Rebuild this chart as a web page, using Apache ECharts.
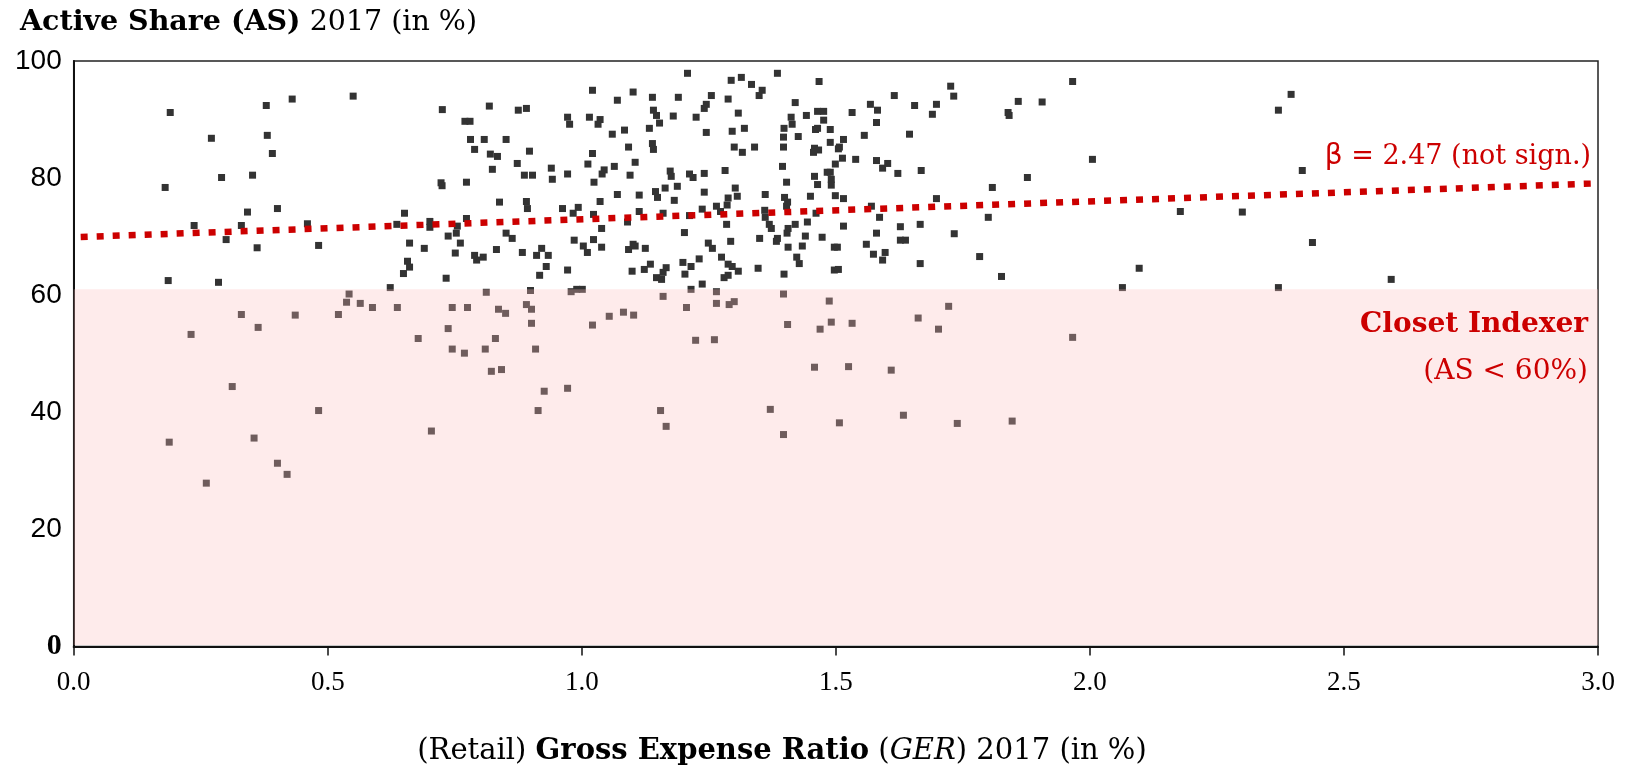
<!DOCTYPE html>
<html>
<head>
<meta charset="utf-8">
<script src="https://cdn.jsdelivr.net/npm/echarts@6/dist/echarts.min.js"></script>
<style>html,body{margin:0;padding:0;background:#fff;}#c{width:1626px;height:774px;}</style>
</head>
<body>
<div id="c"></div>
<script>
// ---- data ----
var gerValues = [
0.190,0.379,0.430,0.550,0.271,0.381,0.391,0.291,0.352,0.180,0.342,0.401,0.651,0.237,0.330,0.460,0.636,0.701,0.701,0.300,0.361,0.482,0.661,0.690,0.657,0.661,0.649,0.186,0.285,0.623,
0.542,0.537,0.564,0.588,0.637,0.745,0.330,0.436,0.521,0.363,0.737,0.231,0.678,0.745,0.312,0.482,0.704,0.188,0.355,0.401,0.420,0.261,
0.7255,0.818,0.875,0.891,0.770,0.780,0.781,0.808,0.851,0.789,0.820,0.834,0.824,0.897,0.873,0.723,0.725,0.773,0.887,0.903,0.940,0.942,0.972,0.838,0.891,0.893,0.962,0.993,0.983,0.773,0.755,0.753,0.737,0.761,0.751,0.733,0.789,0.793,0.806,0.832,0.851,0.863,0.883,0.911,0.921,0.934,0.930,0.917,0.972,0.985,1.003,1.011,1.023,1.039,1.039,1.023,1.036,1.024,1.012,1.021,1.040,1.044,1.064,1.070,1.095,1.105,1.113,1.113,1.092,1.060,1.084,0.972,0.976,1.015,1.036,1.032,1.021,1.070,1.101,1.139,1.141,1.147,1.153,1.133,1.139,1.141,1.190,1.208,1.180,1.225,1.241,1.245,1.255,1.245,1.288,1.294,1.314,1.334,1.355,1.349,1.385,1.420,1.308,1.296,1.320,1.412,1.414,1.398,1.397,1.426,1.397,1.300,1.316,1.340,1.395,1.403,1.282,1.241,1.212,1.219,1.174,1.176,1.164,1.188,1.145,1.149,1.182,1.241,1.302,1.306,1.288,1.286,1.361,1.399,1.405,1.403,1.265,1.237,1.273,1.160,1.212,1.360,1.361,1.369,1.373,1.420,1.406,1.404,1.285,1.090,1.202,1.293,1.249,1.257,1.350,1.385,1.383,1.406,1.423,1.428,1.092,1.101,1.105,1.125,1.135,1.123,1.099,1.166,1.160,1.147,1.157,1.199,1.215,1.203,1.231,1.275,1.288,1.296,1.308,1.280,1.288,1.347,1.398,1.237,1.215,
0.812,0.899,0.979,0.990,1.001,0.775,0.836,0.850,0.891,0.901,0.901,0.830,0.810,0.769,0.909,0.822,0.842,0.926,0.972,0.914,1.021,1.054,1.082,1.102,1.160,1.206,1.265,1.265,1.290,1.300,1.397,1.405,1.224,1.261,1.155,1.166,1.371,1.397,
1.467,1.442,1.464,1.476,1.476,1.460,1.464,1.489,1.489,1.458,1.456,1.466,1.505,1.507,1.515,1.532,1.568,1.582,1.580,1.556,1.615,1.655,1.690,1.698,1.726,1.732,1.645,1.499,1.513,1.539,1.580,1.592,1.602,1.622,1.668,1.458,1.483,1.489,1.491,1.491,1.464,1.450,1.499,1.515,1.461,1.570,1.586,1.698,1.444,1.515,1.627,1.666,1.440,1.473,1.580,1.627,1.637,1.733,1.434,1.497,1.503,1.560,1.574,1.597,1.592,1.666,1.783,1.800,1.808,1.877,1.839,1.841,1.859,1.906,1.966,2.005,1.826,2.097,2.064,1.497,1.505,
1.487,1.491,1.469,1.532,1.662,1.722,1.702,1.966,1.458,1.525,1.609,1.633,1.507,1.739,1.847,
2.396,2.371,2.418,2.178,2.300,2.438,2.371,2.593
];
var asValues = [
91.2,92.4,93.5,94.0,86.8,87.3,84.2,80.1,80.5,78.4,74.2,74.8,74.0,71.9,71.9,72.2,72.1,72.6,71.6,69.5,68.1,68.5,68.9,68.0,65.8,64.8,63.7,62.5,62.2,61.3,
60.2,58.8,58.6,57.9,57.9,57.9,56.7,56.6,56.7,54.5,54.3,53.3,52.6,50.8,44.4,40.3,36.8,34.9,35.6,31.3,29.4,27.9,
91.7,92.3,91.6,91.9,89.7,89.7,86.6,86.6,86.6,84.9,84.1,83.7,81.5,84.6,82.5,79.2,78.7,79.3,80.5,80.5,81.7,79.8,80.7,75.9,76.0,74.8,74.8,75.0,74.0,73.1,71.8,70.6,70.1,68.9,67.2,62.9,66.8,66.0,66.5,67.8,70.6,69.7,67.3,66.8,68.0,66.8,64.9,63.4,64.3,69.4,68.4,67.3,69.5,68.2,71.4,73.8,76.0,79.3,82.4,84.2,80.7,81.4,82.0,77.2,80.5,82.7,77.1,74.3,85.3,87.5,88.2,90.4,89.2,90.4,90.0,89.2,95.0,93.3,94.7,93.8,91.6,90.7,89.4,88.5,85.9,84.9,93.8,97.9,90.6,90.4,91.9,92.6,94.1,87.8,93.5,96.7,97.2,96.0,95.0,94.1,97.9,92.9,91.1,88.0,88.5,90.4,89.2,88.5,87.0,87.1,85.3,85.3,84.4,85.3,82.0,79.3,81.3,80.8,80.7,80.1,81.2,80.3,78.3,78.6,77.7,76.7,76.2,77.6,78.3,76.9,76.6,75.4,77.2,76.7,75.9,75.2,75.2,74.7,74.3,74.0,73.6,74.5,73.3,72.1,71.4,72.1,71.4,70.6,72.1,72.5,70.7,69.2,68.9,68.0,69.7,69.7,69.2,68.2,66.5,65.4,67.8,68.7,68.4,68.0,65.3,64.4,64.1,64.7,63.9,63.0,62.7,65.6,64.9,63.6,66.2,66.5,65.3,64.9,64.1,63.0,63.4,64.6,63.6,61.9,61.0,
60.5,60.8,60.6,61.0,61.0,57.9,57.6,56.9,58.4,57.6,55.2,52.6,50.8,50.1,50.8,47.0,47.3,43.6,44.1,40.3,54.9,56.4,57.1,56.6,59.8,57.9,60.6,58.6,58.4,58.9,60.2,55.0,52.3,52.4,40.3,37.6,40.5,36.2,
96.5,90.7,91.4,91.4,89.9,88.3,88.5,88.3,86.1,85.1,84.4,84.8,85.0,85.3,86.6,91.2,92.6,91.6,89.5,87.3,94.1,92.4,90.9,92.6,95.7,94.0,87.5,82.4,83.4,83.2,83.0,81.7,82.5,80.8,81.3,80.3,81.0,81.0,79.8,78.8,78.9,76.9,77.0,76.5,74.0,75.2,73.3,76.5,72.5,71.8,71.7,72.1,70.1,69.9,70.6,69.4,69.4,70.5,68.4,68.2,68.2,68.7,67.0,67.3,66.0,65.4,66.6,73.3,78.4,80.1,91.2,90.7,93.1,93.0,96.5,83.2,63.2,64.6,61.3,64.3,64.4,
59.0,55.4,54.2,55.2,56.1,58.1,54.2,52.8,47.7,47.8,47.2,39.5,38.2,38.1,38.5,
94.3,91.6,81.3,74.3,74.2,69.0,61.3,62.7
];
var regGer = [0, 3];
var regAs = [69.9, 79.1];
var bandGer = [0, 3];
var bandAs = [0.25, 61];
var xMin = 0, xMax = 3, xStep = 0.5;
var yMin = 0, yMax = 100, yStep = 20;

var points = gerValues.map(function (g, i) { return [g, asValues[i]]; });
var regLine = regGer.map(function (g, i) { return [g, regAs[i]]; });

var serif = "'Liberation Serif', 'DejaVu Serif', serif";
var wserif = "'DejaVu Serif', 'Liberation Serif', serif";
var sans = "'Liberation Sans', Arial, sans-serif";

var chart = echarts.init(document.getElementById('c'), null, {renderer: 'canvas'});
chart.setOption({
  animation: false,
  backgroundColor: '#fff',
  grid: {left: 73.7, right: 28, top: 61, bottom: 127.5, show: true, borderColor: '#222', borderWidth: 1.5, backgroundColor: 'transparent'},
  xAxis: {
    type: 'value', min: xMin, max: xMax, interval: xStep,
    axisLine: {show: true, onZero: false, lineStyle: {color: '#111', width: 2}},
    axisTick: {show: true, inside: false, length: 9, lineStyle: {color: '#111', width: 1.5}},
    axisLabel: {margin: 23, color: '#000', fontFamily: serif, fontSize: 27, formatter: function (v) { return v.toFixed(1); }},
    splitLine: {show: false}
  },
  yAxis: {
    type: 'value', min: yMin, max: yMax, interval: yStep,
    axisLine: {show: true, lineStyle: {color: '#111', width: 2}},
    axisTick: {show: false},
    axisLabel: {margin: 12, color: '#000', fontFamily: sans, fontSize: 28,
      formatter: function (v) { return v === 0 ? '{z|0}' : String(v); },
      rich: {z: {fontFamily: serif, fontWeight: 'bold', fontSize: 30, color: '#000'}}},
    splitLine: {show: false}
  },
  series: [
    {
      type: 'scatter', data: points, symbol: 'rect', symbolSize: 7,
      itemStyle: {color: '#333333', opacity: 1}, z: 2, silent: true
    },
    {
      type: 'line', data: regLine, symbol: 'none', z: 3, silent: true,
      lineStyle: {color: '#cc0000', width: 6.5, type: [7, 9], dashOffset: 9, cap: 'butt'}
    },
    {
      type: 'custom', z: 5, silent: true, clip: false,
      data: [[bandGer[0], bandAs[0], bandGer[1], bandAs[1]]],
      encode: {x: [0, 2], y: [1, 3]},
      renderItem: function (params, api) {
        var p0 = api.coord([api.value(0), api.value(1)]);
        var p1 = api.coord([api.value(2), api.value(3)]);
        return {type: 'rect', shape: {x: p0[0], y: p1[1], width: p1[0] - p0[0], height: p0[1] - p1[1]},
          style: {fill: 'rgba(252,190,190,0.3)'}};
      }
    }
  ],
  graphic: [
    {type: 'text', x: 20, y: 23, z: 10, style: {
      text: '{b|Active Share (AS)}{r| 2017 (in %)}', textAlign: 'left', textVerticalAlign: 'middle',
      rich: {b: {fontFamily: wserif, fontWeight: 'bold', fontSize: 28.5, fill: '#000'}, r: {fontFamily: wserif, fontSize: 28.5, fill: '#000'}}}},
    {type: 'text', x: 782, y: 751, z: 10, style: {
      text: '{r|(Retail) }{b|Gross Expense Ratio}{r| (}{i|GER}{r|) 2017 (in %)}', textAlign: 'center', textVerticalAlign: 'middle',
      rich: {b: {fontFamily: wserif, fontWeight: 'bold', fontSize: 29, fill: '#000'}, r: {fontFamily: wserif, fontSize: 29, fill: '#000'}, i: {fontFamily: wserif, fontStyle: 'italic', fontSize: 29, fill: '#000'}}}},
    {type: 'text', x: 1591, y: 157, z: 10, style: {
      text: '{g|β}{r| = 2.47 (not sign.)}', textAlign: 'right', textVerticalAlign: 'middle',
      rich: {g: {fontFamily: "'DejaVu Sans', sans-serif", fontSize: 28, fill: '#cc0000'}, r: {fontFamily: wserif, fontSize: 27, fill: '#cc0000'}}}},
    {type: 'text', x: 1588, y: 325, z: 10, style: {
      text: 'Closet Indexer', textAlign: 'right', textVerticalAlign: 'middle',
      fontFamily: wserif, fontWeight: 'bold', fontSize: 28, fill: '#cc0000'}},
    {type: 'text', x: 1588, y: 372, z: 10, style: {
      text: '(AS < 60%)', textAlign: 'right', textVerticalAlign: 'middle',
      fontFamily: wserif, fontSize: 28, fill: '#cc0000'}}
  ]
});
</script>
</body>
</html>
